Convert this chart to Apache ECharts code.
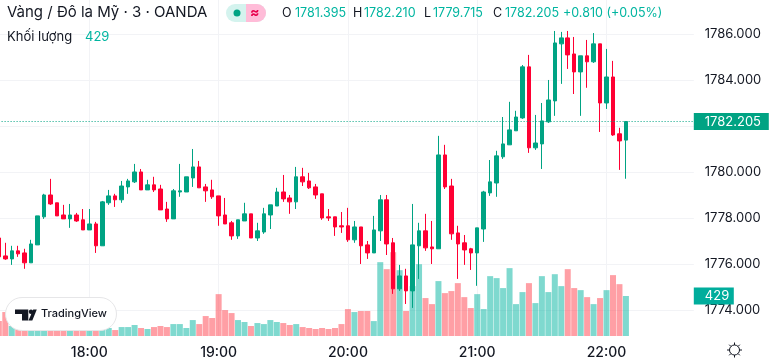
<!DOCTYPE html>
<html>
<head>
<meta charset="utf-8">
<title>XAU/USD</title>
<style>
  html, body { margin: 0; padding: 0; background: #fff; }
  #chart { width: 771px; height: 364px; }
</style>
<script src="https://cdn.jsdelivr.net/npm/echarts@6/dist/echarts.min.js"></script>
</head>
<body>
<div id="chart"></div>
<script>
// 3 minute bars, the last ten categories are the empty space right of the last candle
var categories = ['17:18','17:21','17:24','17:27','17:30','17:33','17:36','17:39','17:42','17:45','17:48','17:51','17:54','17:57',
  '18:00','18:03','18:06','18:09','18:12','18:15','18:18','18:21','18:24','18:27','18:30','18:33','18:36','18:39','18:42','18:45','18:48','18:51','18:54','18:57',
  '19:00','19:03','19:06','19:09','19:12','19:15','19:18','19:21','19:24','19:27','19:30','19:33','19:36','19:39','19:42','19:45','19:48','19:51','19:54','19:57',
  '20:00','20:03','20:06','20:09','20:12','20:15','20:18','20:21','20:24','20:27','20:30','20:33','20:36','20:39','20:42','20:45','20:48','20:51','20:54','20:57',
  '21:00','21:03','21:06','21:09','21:12','21:15','21:18','21:21','21:24','21:27','21:30','21:33','21:36','21:39','21:42','21:45','21:48','21:51','21:54','21:57',
  '22:00','22:03','22:06','22:09','22:12','22:15','22:18','22:21','22:24','22:27','22:30','22:33','22:36','22:39'];

var opens = [1777.14,1776.36,1776.23,1776.58,1776.49,1776.06,1776.84,1778.06,1779.01,1778.67,1778.14,1777.97,1778.14,1777.93,
  1777.49,1777.75,1776.80,1778.67,1778.97,1778.80,1779.36,1779.58,1780.01,1779.23,1779.45,1779.27,1778.40,1777.97,1779.14,1779.14,
  1779.75,1780.23,1779.36,1779.23,1778.97,1778.14,1777.80,1777.23,1777.88,1778.19,1777.14,1777.40,1778.14,1778.53,1779.14,1778.88,
  1778.71,1779.80,1779.62,1779.36,1779.06,1778.06,1778.06,1777.67,1777.67,1777.06,1777.62,1776.84,1776.49,1777.45,1778.80,1776.93,
  1774.93,1775.49,1774.84,1776.80,1777.45,1776.75,1776.67,1780.75,1779.40,1777.36,1776.93,1776.67,1776.49,1777.53,1779.10,1779.53,
  1780.67,1781.19,1781.80,1782.36,1784.58,1781.06,1781.23,1782.19,1783.10,1785.58,1785.84,1785.14,1784.36,1785.06,1784.80,1785.58,
  1783.01,1784.14,1781.67,1781.395];
var closes = [1776.32,1776.23,1776.58,1776.45,1776.06,1776.88,1778.10,1779.01,1778.62,1778.10,1777.97,1778.14,1777.88,1777.49,
  1777.75,1776.80,1778.71,1778.97,1778.80,1779.40,1779.62,1780.01,1779.23,1779.45,1779.23,1778.36,1777.97,1779.19,1779.19,1779.80,
  1780.23,1779.32,1779.19,1778.93,1778.10,1777.75,1777.23,1777.93,1778.19,1777.14,1777.45,1778.19,1778.58,1779.14,1778.84,1778.71,
  1779.80,1779.58,1779.32,1779.01,1778.01,1778.01,1777.62,1777.62,1777.06,1777.62,1776.80,1776.49,1777.49,1778.80,1776.88,1774.93,
  1775.49,1774.84,1776.84,1777.45,1776.71,1776.67,1780.75,1779.36,1777.32,1776.88,1776.62,1776.49,1777.58,1779.14,1779.58,1780.71,
  1781.23,1781.84,1782.40,1784.58,1781.06,1781.27,1782.23,1783.14,1785.62,1785.84,1785.10,1784.36,1785.06,1784.80,1785.58,1783.01,
  1784.14,1781.62,1781.36,1782.205];
var lows = [1776.32,1776.19,1775.97,1776.32,1775.80,1776.06,1776.84,1777.97,1778.58,1778.10,1777.97,1777.58,1777.84,1777.49,
  1777.49,1776.49,1776.80,1778.58,1778.49,1778.67,1779.06,1779.53,1779.23,1779.23,1779.14,1778.36,1777.84,1777.97,1778.93,1779.14,
  1779.36,1779.32,1778.71,1778.84,1777.67,1777.75,1777.06,1777.10,1777.88,1777.14,1777.01,1777.32,1777.53,1778.53,1778.71,1778.19,
  1778.40,1779.40,1779.27,1778.84,1777.93,1777.88,1777.23,1777.36,1776.97,1776.93,1776.01,1776.23,1776.49,1777.01,1776.40,1774.71,
  1774.84,1774.27,1774.10,1775.36,1776.58,1776.01,1776.67,1779.27,1777.06,1775.36,1775.97,1775.75,1775.06,1776.97,1778.97,1778.93,
  1780.58,1781.19,1781.80,1782.32,1780.84,1780.97,1780.14,1782.14,1782.45,1783.84,1784.49,1783.40,1782.45,1783.67,1784.75,1781.75,
  1782.75,1781.58,1780.10,1779.715];
var highs = [1777.14,1776.93,1776.80,1776.80,1776.67,1777.06,1778.10,1779.06,1779.71,1778.67,1778.58,1778.62,1778.23,1778.40,
  1778.40,1777.84,1778.75,1779.23,1779.06,1779.62,1779.71,1780.36,1780.14,1779.67,1779.80,1779.45,1778.71,1779.27,1780.36,1779.80,
  1781.01,1780.49,1779.49,1779.67,1778.97,1778.88,1777.88,1777.93,1778.67,1778.19,1777.80,1778.45,1778.58,1779.32,1779.88,1779.01,
  1780.23,1780.19,1779.97,1779.49,1779.06,1778.40,1778.06,1778.27,1778.45,1777.88,1777.62,1777.01,1778.10,1779.01,1779.01,1777.14,
  1775.97,1775.80,1778.62,1777.80,1778.19,1777.88,1781.58,1781.19,1779.71,1777.67,1777.27,1776.71,1777.58,1779.19,1780.53,1780.93,
  1782.40,1783.06,1782.67,1784.66,1785.10,1782.49,1783.01,1784.01,1786.14,1786.10,1786.14,1785.88,1785.06,1785.75,1786.05,1785.58,
  1785.36,1784.84,1781.93,1782.21];
var volumes = [160,257,107,96,96,107,128,107,96,86,86,86,86,86,
  86,86,96,86,64,96,96,118,86,75,96,107,96,128,128,86,
  171,128,214,193,449,278,246,171,150,107,139,128,171,150,139,118,
  128,96,86,75,86,75,86,128,289,257,268,268,160,792,717,899,
  706,268,535,770,407,342,589,460,482,567,417,300,449,289,642,621,
  514,728,342,471,567,353,642,471,663,535,717,514,492,417,342,407,
  492,653,556,429];
var yTicks = { min: 1772, max: 1788, interval: 2 };
var lastClose = 1782.205;
var lastVolume = 429;

var UP = '#00a383';
var DOWN = '#ff0033';
var UP_VOL = 'rgba(0,179,160,0.5)';
var DOWN_VOL = 'rgba(255,64,76,0.5)';
var TEXT = '#131722';
var FONT = 'Inter, Roboto, sans-serif';
var GRIDLINE = '#f2f3f6';

function showHour(index, value) {
  return value.slice(-3) === ':00';
}

function headerText(x, y, str, color, size) {
  return {
    type: 'text',
    x: x,
    y: y,
    style: { text: str, fill: color, font: (size || 12.5) + 'px ' + FONT, verticalAlign: 'middle' },
    z: 50
  };
}

function buildGraphic() {
  var g = [
    headerText(7, 12, 'Vàng / Đô la Mỹ · 3 · OANDA', TEXT, 15),
    headerText(7, 37, 'Khối lượng', TEXT, 13),
    headerText(85, 37, '429', '#00b5a0', 13),
    { type: 'rect', shape: { x: 226, y: 4, width: 40, height: 18, r: 9 }, style: { fill: '#d4f3ee' }, z: 50 },
    { type: 'rect', shape: { x: 246, y: 4, width: 20, height: 18, r: [0, 9, 9, 0] }, style: { fill: '#ffbcd8' }, z: 50 },
    { type: 'circle', shape: { cx: 237, cy: 13, r: 3.5 }, style: { fill: '#00a383' }, z: 51 },
    { type: 'text', x: 250, y: 13, style: { text: '≈', fill: '#e8004c', font: 'bold 14px ' + FONT, verticalAlign: 'middle' }, z: 51 },
    headerText(282, 13, 'O', TEXT),
    headerText(295, 13, '1781.395', '#00b5a0'),
    headerText(353, 13, 'H', TEXT),
    headerText(364, 13, '1782.210', '#00b5a0'),
    headerText(424, 13, 'L', TEXT),
    headerText(433, 13, '1779.715', '#00b5a0'),
    headerText(493, 13, 'C', TEXT),
    headerText(505, 13, '1782.205', '#00b5a0'),
    headerText(563, 13, '+0.810 (+0.05%)', '#00b5a0'),
    // TradingView badge
    { type: 'rect', shape: { x: 5.5, y: 297.5, width: 111, height: 33, r: 16.5 }, style: { fill: '#fff', stroke: '#e6e6e8', lineWidth: 1 }, z: 50 },
    { type: 'polygon', shape: { points: [[15, 309.5], [28.3, 309.5], [28.3, 320.5], [22, 320.5], [22, 314], [15, 314]] }, style: { fill: TEXT }, z: 51 },
    { type: 'circle', shape: { cx: 31, cy: 311.7, r: 2.2 }, style: { fill: TEXT }, z: 51 },
    { type: 'polygon', shape: { points: [[28.5, 320.5], [33.2, 309.5], [36.8, 309.5], [32.3, 320.5]] }, style: { fill: TEXT }, z: 51 },
    { type: 'text', x: 41, y: 314, style: { text: 'TradingView', fill: TEXT, font: '500 11px ' + FONT, verticalAlign: 'middle' }, z: 51 },
    // settings gear under the price scale
    { type: 'circle', shape: { cx: 734.5, cy: 350, r: 5 }, style: { fill: 'none', stroke: TEXT, lineWidth: 1 }, z: 50 }
  ];
  var rays = [[0, -7.5, 0, -5], [0, 5, 0, 7.5], [-7.5, 0, -5, 0], [5, 0, 7.5, 0], [-5.3, -5.3, -3.6, -3.6], [3.6, -3.6, 5.3, -5.3], [-5.3, 5.3, -3.6, 3.6], [3.6, 3.6, 5.3, 5.3]];
  rays.forEach(function (r) {
    g.push({
      type: 'line',
      shape: { x1: 734.5 + r[0], y1: 350 + r[1], x2: 734.5 + r[2], y2: 350 + r[3] },
      style: { stroke: TEXT, lineWidth: 1 },
      z: 50
    });
  });
  return g;
}

var candleData = opens.map(function (o, i) {
  return [o, closes[i], lows[i], highs[i]];
});

var volumeData = volumes.map(function (v, i) {
  return { value: v, itemStyle: { color: closes[i] >= opens[i] ? UP_VOL : DOWN_VOL } };
});

var chart = echarts.init(document.getElementById('chart'));
var option = {
  animation: false,
  backgroundColor: '#fff',
  grid: [
    { left: -4.4, width: 698.2, top: -11.8, height: 368, outerBoundsMode: 'none' },
    { left: -4.4, width: 698.2, top: 0, height: 336, outerBoundsMode: 'none' }
  ],
  xAxis: [
    {
      type: 'category',
      gridIndex: 0,
      data: categories,
      axisLine: { show: false },
      axisTick: { show: false },
      axisLabel: { show: false },
      splitLine: { show: false }
    },
    {
      type: 'category',
      gridIndex: 1,
      data: categories,
      axisLine: { show: false },
      axisTick: { show: false },
      axisLabel: {
        interval: showHour,
        margin: 10,
        hideOverlap: false,
        color: TEXT,
        fontSize: 14,
        fontWeight: 500,
        fontFamily: FONT
      },
      splitLine: {
        show: true,
        alignWithLabel: true,
        interval: showHour,
        lineStyle: { color: GRIDLINE, width: 1 }
      }
    }
  ],
  yAxis: [
    {
      type: 'value',
      gridIndex: 0,
      position: 'right',
      min: yTicks.min,
      max: yTicks.max,
      interval: yTicks.interval,
      axisLine: { show: false },
      axisTick: { show: false },
      splitLine: { show: true, showMinLine: false, showMaxLine: false, lineStyle: { color: GRIDLINE, width: 1 } },
      axisLabel: {
        margin: 11,
        showMinLabel: false,
        showMaxLabel: false,
        color: TEXT,
        fontSize: 13,
        fontFamily: FONT,
        formatter: function (v) { return v.toFixed(3); }
      }
    },
    {
      type: 'value',
      gridIndex: 1,
      min: 0,
      max: 3604,
      show: false,
      splitLine: { show: false }
    }
  ],
  series: [
    {
      name: 'Khối lượng',
      type: 'bar',
      xAxisIndex: 1,
      yAxisIndex: 1,
      barWidth: 6,
      z: 1,
      data: volumeData,
      markLine: {
        silent: true,
        symbol: 'none',
        data: [{ yAxis: lastVolume }],
        lineStyle: { color: 'rgba(0,0,0,0)' },
        label: {
          position: 'end',
          distance: 0,
          formatter: String(lastVolume),
          color: '#fff',
          fontSize: 13,
          fontFamily: FONT,
          backgroundColor: '#00ad9c',
          width: 29,
          height: 17,
          lineHeight: 17,
          align: 'left',
          padding: [0, 0, 0, 11]
        }
      }
    },
    {
      name: 'Vàng / Đô la Mỹ',
      type: 'candlestick',
      xAxisIndex: 0,
      yAxisIndex: 0,
      barWidth: 4,
      z: 3,
      itemStyle: { color: UP, color0: DOWN, borderColor: UP, borderColor0: DOWN, borderWidth: 1 },
      data: candleData,
      markLine: {
        silent: true,
        symbol: 'none',
        data: [{ yAxis: lastClose }],
        lineStyle: { color: UP, type: [1, 2], width: 1 },
        label: {
          position: 'end',
          distance: 0,
          formatter: lastClose.toFixed(3),
          color: '#fff',
          fontSize: 13,
          fontFamily: FONT,
          backgroundColor: UP,
          width: 64,
          height: 17,
          lineHeight: 17,
          align: 'left',
          padding: [0, 0, 0, 11]
        }
      }
    }
  ],
  graphic: buildGraphic()
};
chart.setOption(option);
</script>
</body>
</html>
